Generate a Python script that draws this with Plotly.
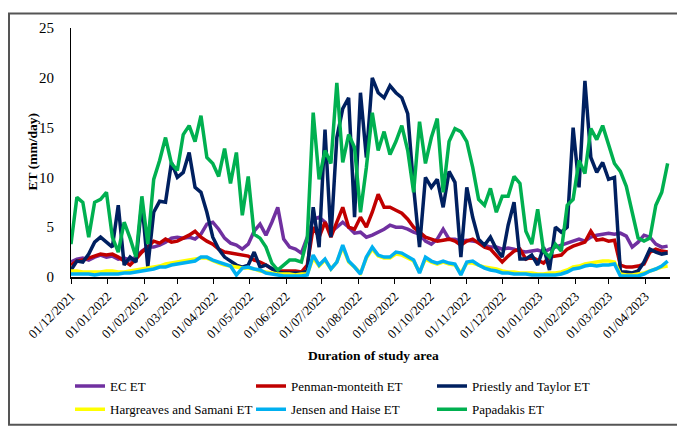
import pandas as pd
import plotly.graph_objects as go

# 5-day sampling, 01/12/2021 .. 20/04/2023
dates = pd.date_range("2021-12-01", periods=102, freq="5D")

ec_et = [1.5, 1.8, 1.9, 1.7, 2.0, 2.2, 2.0, 2.1, 1.8, 1.9,
         1.7, 2.0, 2.6, 3.0, 3.0, 3.2, 3.5, 3.9, 4.0, 3.9,
         4.0, 3.8, 4.3, 5.3, 5.5, 4.8, 3.9, 3.4, 3.2, 2.8,
         3.3,
         4.6, 5.3, 4.2, 5.5, 7.0, 3.8, 3.0, 2.8, 2.4, 4.0,
         5.8, 6.0, 5.5, 4.5, 5.0, 5.5, 5.0, 4.4, 4.5, 4.0,
         4.2, 4.5, 4.8, 5.2, 5.0, 5.0, 4.8, 4.5, 4.3, 3.6,
         3.3, 3.8, 4.8, 3.8, 3.8, 3.6, 3.7,
         3.6, 3.5, 3.2, 3.0, 3.0, 2.8, 2.9, 2.8, 2.6, 2.5,
         2.6, 2.7, 2.5, 2.8, 3.0, 3.2, 3.4, 3.6, 3.8, 3.6,
         4.0, 4.2, 4.3, 4.4, 4.3, 4.4, 4.1, 3.0, 3.5, 4.2,
         4.0, 3.3, 3.0, 3.1]

penman_et = [1.2, 1.6, 1.7, 1.9, 2.1, 2.3, 2.2, 2.3, 2.0, 1.6,
             1.2, 1.8, 2.5, 3.0, 3.6, 3.4, 3.8, 3.5, 3.6, 3.9,
             4.2, 4.6, 4.0, 3.6, 3.3, 2.8, 2.5, 2.4, 2.3, 2.2,
             2.1,
             1.7, 1.5, 1.2, 0.8, 0.6, 0.6, 0.6, 0.6, 0.5, 1.2,
             5.0, 4.0, 5.5, 4.0, 5.5, 7.0, 5.0, 4.8, 6.0, 5.0,
             6.5, 8.3, 7.0, 7.0, 6.7, 6.4, 5.8, 5.0, 4.5, 4.0,
             3.8, 3.6, 3.7, 3.8, 3.6, 3.2, 3.6,
             3.8, 3.4, 3.0, 2.8, 2.2, 1.5, 2.1, 2.6, 2.8, 1.8,
             2.0, 1.7, 1.4, 2.0, 2.1, 2.2, 2.8, 3.1, 3.3, 3.5,
             4.6, 3.7, 3.8, 3.6, 3.7, 1.2, 1.0, 1.0, 1.1, 1.3,
             2.5, 2.8, 2.6, 2.5]

priestly_et = [0.7, 1.6, 1.5, 2.3, 3.5, 4.0, 3.5, 3.0, 7.2, 1.2,
               2.0, 1.5, 7.5, 1.0, 6.5, 7.6, 7.5, 11.5, 10.0, 10.5,
               12.5, 9.0, 8.5, 6.5, 4.0, 2.8, 2.0, 1.6, 1.2, 1.0,
               1.2,
               2.5, 1.0, 1.2, 0.8, 0.5, 0.4, 0.4, 0.4, 0.4, 0.6,
               7.0, 3.0, 14.8, 4.0, 14.0, 16.9, 18.0, 6.0, 18.5, 12.0,
               20.0, 18.5, 18.0, 19.2, 18.5, 18.0, 16.4, 9.0, 3.0, 10.0,
               9.0, 9.8, 7.0, 10.6, 9.5, 2.0, 9.0,
               6.0, 3.8, 3.2, 4.0, 2.8, 2.0, 5.2, 7.5, 1.8, 1.8,
               2.2, 1.2, 3.0, 0.7, 5.0, 4.5, 5.0, 15.0, 9.0, 19.7,
               12.0, 10.5, 11.5, 9.8, 10.0, 0.5, 0.5, 0.4, 0.6, 1.5,
               2.8, 2.5, 2.3, 2.4]

hargreaves_et = [0.6, 0.6, 0.5, 0.5, 0.5, 0.5, 0.6, 0.6, 0.5, 0.5,
                 0.6, 0.7, 0.8, 0.9, 1.0, 1.1, 1.3, 1.4, 1.5, 1.6,
                 1.7, 1.8, 1.9, 1.9, 1.6, 1.4, 1.2, 1.1, 1.0, 0.9,
                 0.9,
                 0.8, 0.6, 0.5, 0.4, 0.3, 0.3, 0.3, 0.2, 0.3, 0.3,
                 1.9, 1.1, 1.7, 0.8, 1.5, 3.0, 1.5, 1.0, 0.4, 1.9,
                 2.8, 2.1, 1.9, 1.9, 2.3, 2.2, 1.9, 1.6, 0.5, 1.8,
                 1.5, 1.3, 1.5, 1.3, 1.2, 0.4, 1.4,
                 1.4, 1.2, 1.0, 0.9, 0.8, 0.6, 0.5, 0.5, 0.4, 0.4,
                 0.4, 0.3, 0.3, 0.4, 0.4, 0.5, 0.7, 1.0, 1.1, 1.3,
                 1.4, 1.5, 1.6, 1.6, 1.5, 0.3, 0.2, 0.2, 0.3, 0.4,
                 0.6, 0.8, 1.0, 1.1]

jensen_et = [0.3, 0.3, 0.3, 0.3, 0.2, 0.3, 0.3, 0.3, 0.3, 0.4,
             0.4, 0.5, 0.6, 0.7, 0.8, 1.0, 1.0, 1.2, 1.3, 1.4,
             1.5, 1.6, 2.0, 2.0, 1.7, 1.5, 1.3, 1.1, 0.2, 0.9,
             1.0,
             0.8, 0.7, 0.4, 0.3, 0.2, 0.1, 0.1, 0.1, 0.1, 0.2,
             2.2, 1.2, 1.8, 0.8, 1.5, 3.2, 1.6, 1.0, 0.3, 2.0,
             3.0, 2.2, 2.0, 2.0, 2.5, 2.4, 2.0, 1.7, 0.4, 2.0,
             1.6, 1.4, 1.6, 1.4, 1.3, 0.2, 1.5,
             1.6, 1.2, 0.9, 0.7, 0.6, 0.4, 0.4, 0.3, 0.3, 0.3,
             0.2, 0.2, 0.2, 0.2, 0.2, 0.3, 0.5, 0.8, 0.9, 1.1,
             1.2, 1.1, 1.2, 1.2, 1.3, 0.1, 0.1, 0.1, 0.1, 0.3,
             0.6, 0.8, 1.1, 1.6]

papadakis_et = [3.3, 8.0, 7.5, 4.0, 7.5, 7.8, 8.5, 4.0, 2.5, 5.5,
                3.9, 2.0, 8.1, 3.3, 9.8, 11.7, 14.0, 11.4, 10.7, 14.3,
                15.2, 13.6, 16.2, 12.0, 11.4, 10.1, 12.9, 9.4, 12.5, 6.2,
                10.1,
                4.3, 3.9, 3.0, 1.4, 0.7, 1.2, 1.7, 1.7, 1.5, 3.9,
                16.5, 9.8, 12.7, 11.4, 19.5, 11.5, 14.3, 13.0, 6.5, 11.0,
                16.5, 12.7, 14.6, 12.3, 13.6, 15.2, 12.7, 8.5, 15.6, 11.4,
                14.0, 15.9, 8.5, 13.6, 14.9, 14.6, 13.6,
                11.0, 7.8, 7.2, 8.9, 6.5, 8.1, 8.1, 10.1, 9.4, 4.6,
                3.3, 6.8, 2.6, 2.0, 3.3, 2.6, 7.2, 7.8, 11.7, 10.4,
                14.9, 13.8, 15.2, 13.3, 11.4, 10.6, 9.1, 6.5, 3.9, 3.6,
                3.9, 7.2, 8.5, 11.4]

series_names = ["EC ET", "Penman-monteith ET", "Priestly and Taylor ET",
                "Hargreaves and Samani ET", "Jensen and Haise ET", "Papadakis ET"]
series_values = [ec_et, penman_et, priestly_et, hargreaves_et, jensen_et, papadakis_et]
series_colors = ["#7030A0", "#C00000", "#002060", "#FFFF00", "#00B0F0", "#00B050"]
series_legend = ["legend", "legend", "legend", "legend2", "legend2", "legend2"]

for v in series_values:
    assert len(v) == len(dates), len(v)

FONT = "Liberation Serif"
W, H = 685, 428
ML, MR, MT, MB = 63, 23, 16, 154
PW, PH = W - ML - MR, H - MT - MB

fig = go.Figure()
for name, vals, col, lg in zip(series_names, series_values, series_colors, series_legend):
    fig.add_trace(go.Scatter(x=dates, y=vals, mode="lines", name=name,
                             line=dict(color=col, width=3.5), legend=lg))

def px_x(p):
    return (p - ML) / PW

def px_y(p):
    return (H - MB - p) / PH

leg_common = dict(orientation="h", xanchor="left", yanchor="middle",
                  font=dict(family=FONT, size=13, color="black"),
                  entrywidth=136, entrywidthmode="pixels", itemwidth=30,
                  bgcolor="rgba(0,0,0,0)", borderwidth=0, traceorder="normal")

fig.update_layout(
    width=W, height=H,
    margin=dict(l=ML, r=MR, t=MT, b=MB, pad=0),
    paper_bgcolor="white", plot_bgcolor="white",
    font=dict(family=FONT, size=13, color="black"),
    showlegend=True,
    legend=dict(x=px_x(62), y=px_y(387), **leg_common),
    legend2=dict(x=px_x(62), y=px_y(411), **leg_common),
    xaxis=dict(type="date", range=["2021-12-01", "2023-04-22"],
               tick0="2021-12-01", dtick="M1", tickformat="%d/%m/%Y",
               tickangle=-45, ticks="outside", ticklen=5, tickcolor="black",
               showline=True, linecolor="black", linewidth=1.5,
               showgrid=False, zeroline=False,
               tickfont=dict(family=FONT, size=13, color="black")),
    yaxis=dict(range=[0, 25], dtick=5, tick0=0, ticks="",
               showline=True, linecolor="black", linewidth=1,
               showgrid=False, zeroline=False, ticklabelstandoff=13,
               tickfont=dict(family=FONT, size=15, color="black")),
    annotations=[
        dict(text="<b>ET (mm/day)</b>", xref="paper", yref="paper",
             x=px_x(24), y=0.5, textangle=-90, showarrow=False,
             xanchor="center", yanchor="middle",
             font=dict(family=FONT, size=13.5, color="black")),
        dict(text="<b>Duration of study area</b>", xref="paper", yref="paper",
             x=px_x(365), y=px_y(355), showarrow=False,
             xanchor="center", yanchor="middle",
             font=dict(family=FONT, size=13.5, color="black")),
    ],
    shapes=[dict(type="rect", xref="paper", yref="paper",
                 x0=px_x(1), x1=px_x(W - 1), y0=px_y(H - 1), y1=px_y(1),
                 line=dict(color="#555555", width=2), fillcolor="rgba(0,0,0,0)",
                 layer="above")],
)

fig.write_html("out.html")
